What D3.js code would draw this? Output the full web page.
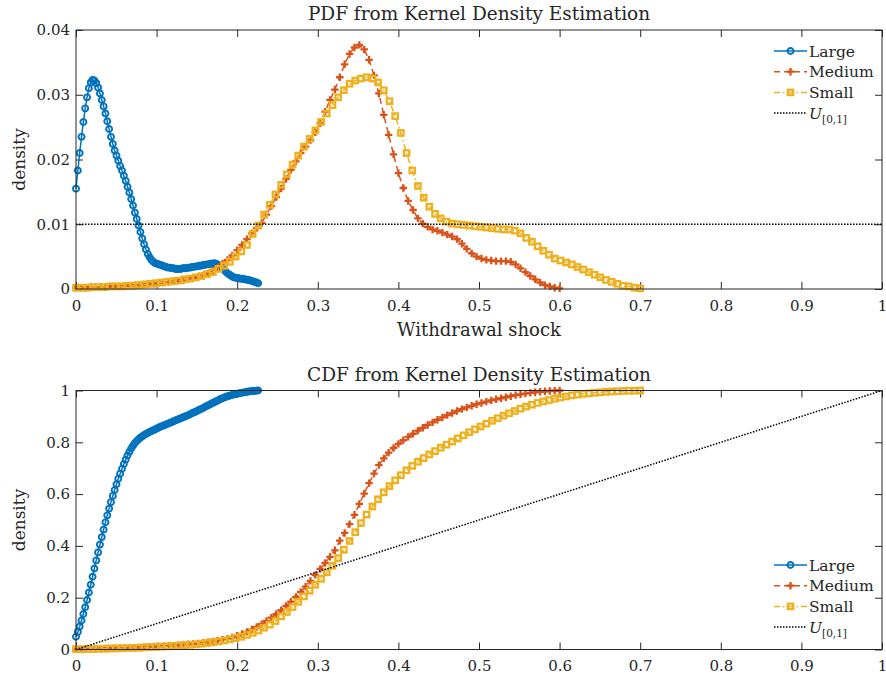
<!DOCTYPE html>
<html>
<head>
<meta charset="utf-8">
<script src="https://cdn.jsdelivr.net/npm/d3@7"></script>
<style>
  body { margin: 0; background: #fff; }
  svg text { font-family: "DejaVu Serif", serif; fill: #262626; }
</style>
</head>
<body>
<svg id="fig" width="886" height="681"></svg>
<script>
// ---- data -------------------------------------------------------------
const seriesNames = ["Large", "Medium", "Small"];
// each estimate is evaluated on 100 evenly spaced points from 0 up to gridEnds[k]
const gridEnds = [0.226, 0.6, 0.7];
const gridCount = 100;

const xTicks = [0, 0.1, 0.2, 0.3, 0.4, 0.5, 0.6, 0.7, 0.8, 0.9, 1];
const xTickLabels = ["0", "0.1", "0.2", "0.3", "0.4", "0.5", "0.6", "0.7", "0.8", "0.9", "1"];
const pdfTicks = [0, 0.01, 0.02, 0.03, 0.04];
const pdfTickLabels = ["0", "0.01", "0.02", "0.03", "0.04"];
const cdfTicks = [0, 0.2, 0.4, 0.6, 0.8, 1];
const cdfTickLabels = ["0", "0.2", "0.4", "0.6", "0.8", "1"];

// uniform reference U[0,1]
const uniformX = [0, 1];
const uniformPdf = [0.01, 0.01];
const uniformCdf = [0, 1];

const largePdf = [
  0.0155,0.0183,0.0210,0.0235,0.0258,0.0279,0.0296,0.0310,0.0319,0.0323,
  0.0322,0.0318,0.0311,0.0302,0.0292,0.0282,0.0271,0.0259,0.0247,0.0235,
  0.0224,0.0214,0.0206,0.0198,0.0190,0.0183,0.0175,0.0167,0.0158,0.0149,
  0.0139,0.0129,0.0118,0.0108,0.0098,0.0088,0.0078,0.0069,0.0061,0.0054,
  0.0049,0.0045,0.0042,0.0040,0.0039,0.0038,0.0037,0.0036,0.0035,0.0034,
  0.0033,0.0033,0.0032,0.0032,0.0031,0.0031,0.0031,0.0031,0.0032,0.0032,
  0.0032,0.0033,0.0033,0.0034,0.0034,0.0035,0.0035,0.0036,0.0036,0.0037,
  0.0037,0.0038,0.0038,0.0039,0.0039,0.0040,0.0039,0.0038,0.0036,0.0034,
  0.0031,0.0028,0.0025,0.0023,0.0021,0.0019,0.0018,0.0017,0.0017,0.0016,
  0.0016,0.0015,0.0015,0.0014,0.0014,0.0013,0.0012,0.0011,0.0010,0.0009];

const mediumPdf = [
  0.0002,0.0002,0.0002,0.0003,0.0003,0.0003,0.0003,0.0004,0.0004,0.0004,
  0.0005,0.0005,0.0006,0.0006,0.0007,0.0008,0.0008,0.0009,0.0010,0.0011,
  0.0012,0.0013,0.0014,0.0016,0.0017,0.0019,0.0021,0.0024,0.0028,0.0033,
  0.0039,0.0045,0.0052,0.0060,0.0068,0.0077,0.0086,0.0094,0.0102,0.0115,
  0.0128,0.0142,0.0155,0.0170,0.0184,0.0197,0.0210,0.0220,0.0230,0.0242,
  0.0256,0.0274,0.0292,0.0308,0.0327,0.0347,0.0363,0.0373,0.0377,0.0370,
  0.0354,0.0330,0.0302,0.0269,0.0238,0.0208,0.0179,0.0156,0.0136,0.0122,
  0.0109,0.0101,0.0096,0.0092,0.0090,0.0087,0.0084,0.0081,0.0077,0.0070,
  0.0062,0.0055,0.0050,0.0047,0.0045,0.0044,0.0043,0.0043,0.0043,0.0042,
  0.0038,0.0032,0.0026,0.0020,0.0015,0.0010,0.0006,0.0004,0.0002,0.0001];

const smallPdf = [
  0.0002,0.0002,0.0002,0.0003,0.0003,0.0003,0.0004,0.0004,0.0004,0.0005,
  0.0005,0.0006,0.0007,0.0008,0.0009,0.0010,0.0011,0.0012,0.0013,0.0015,
  0.0016,0.0018,0.0020,0.0023,0.0026,0.0031,0.0036,0.0042,0.0050,0.0058,
  0.0068,0.0085,0.0098,0.0115,0.0130,0.0146,0.0161,0.0177,0.0192,0.0206,
  0.0220,0.0232,0.0245,0.0258,0.0271,0.0284,0.0296,0.0307,0.0317,0.0322,
  0.0325,0.0327,0.0325,0.0319,0.0307,0.0290,0.0267,0.0241,0.0210,0.0183,
  0.0159,0.0141,0.0127,0.0116,0.0109,0.0104,0.0101,0.0100,0.0099,0.0098,
  0.0097,0.0096,0.0095,0.0094,0.0093,0.0092,0.0092,0.0090,0.0086,0.0079,
  0.0073,0.0066,0.0059,0.0053,0.0047,0.0044,0.0041,0.0038,0.0034,0.0030,
  0.0026,0.0022,0.0018,0.0014,0.0011,0.0008,0.0005,0.0004,0.0002,0.0001];

const largeCdf = [
  0.049,0.068,0.089,0.112,0.137,0.163,0.191,0.220,0.250,0.281,
  0.313,0.344,0.375,0.405,0.434,0.463,0.491,0.518,0.544,0.569,
  0.593,0.616,0.638,0.659,0.679,0.698,0.716,0.733,0.749,0.763,
  0.776,0.787,0.797,0.805,0.812,0.818,0.823,0.828,0.832,0.836,
  0.840,0.843,0.847,0.850,0.853,0.857,0.860,0.863,0.866,0.869,
  0.872,0.875,0.878,0.881,0.884,0.887,0.890,0.893,0.896,0.899,
  0.902,0.905,0.908,0.912,0.915,0.918,0.922,0.925,0.929,0.932,
  0.936,0.940,0.943,0.947,0.951,0.954,0.958,0.961,0.965,0.968,
  0.971,0.974,0.977,0.979,0.981,0.983,0.985,0.987,0.988,0.990,
  0.991,0.992,0.993,0.995,0.996,0.997,0.998,0.998,0.999,1.000];

const mediumCdf = [
  0.001,0.001,0.002,0.002,0.003,0.003,0.004,0.004,0.005,0.005,
  0.006,0.007,0.007,0.008,0.009,0.010,0.011,0.012,0.013,0.014,
  0.015,0.017,0.018,0.020,0.021,0.023,0.025,0.028,0.031,0.034,
  0.038,0.042,0.047,0.053,0.060,0.068,0.077,0.087,0.098,0.110,
  0.123,0.137,0.152,0.168,0.185,0.203,0.222,0.243,0.265,0.288,
  0.311,0.334,0.358,0.383,0.420,0.450,0.484,0.520,0.562,0.602,
  0.642,0.679,0.712,0.738,0.760,0.778,0.794,0.808,0.821,0.833,
  0.845,0.856,0.867,0.877,0.887,0.896,0.905,0.913,0.921,0.928,
  0.935,0.941,0.947,0.952,0.957,0.962,0.966,0.970,0.974,0.978,
  0.982,0.985,0.988,0.991,0.993,0.995,0.997,0.998,0.999,1.000];

const smallCdf = [
  0.001,0.001,0.002,0.002,0.003,0.003,0.004,0.004,0.005,0.006,
  0.006,0.007,0.008,0.009,0.010,0.011,0.012,0.014,0.015,0.017,
  0.018,0.020,0.022,0.025,0.028,0.031,0.035,0.039,0.044,0.049,
  0.056,0.064,0.073,0.084,0.096,0.110,0.128,0.145,0.164,0.184,
  0.205,0.227,0.250,0.273,0.298,0.323,0.353,0.385,0.419,0.453,
  0.488,0.521,0.552,0.580,0.607,0.631,0.653,0.673,0.692,0.709,
  0.725,0.739,0.753,0.766,0.779,0.791,0.803,0.815,0.827,0.839,
  0.850,0.861,0.872,0.883,0.893,0.903,0.912,0.921,0.930,0.938,
  0.945,0.952,0.958,0.963,0.968,0.973,0.977,0.981,0.984,0.987,
  0.989,0.991,0.993,0.995,0.996,0.997,0.998,0.999,0.999,1.000];

// ---- styling ----------------------------------------------------------
const colors = ["#0072BD", "#D95319", "#EDB120"];
const dashes = [null, "6,4", "6,3,1.5,3"];
const markers = ["circle", "plus", "square"];
const axisColor = "#262626";

const svg = d3.select("#fig");
const x = d3.scaleLinear().domain([0, 1]).range([76, 882]);

function drawMarker(g, kind, color) {
  if (kind === "circle") {
    g.append("circle").attr("r", 3).attr("fill", "none")
      .attr("stroke", color).attr("stroke-width", 1.9);
  } else if (kind === "plus") {
    g.append("path").attr("d", "M-3.7,0H3.7M0,-3.7V3.7").attr("fill", "none")
      .attr("stroke", color).attr("stroke-width", 2.3);
  } else {
    g.append("rect").attr("x", -2.7).attr("y", -2.7).attr("width", 5.4).attr("height", 5.4)
      .attr("fill", "none").attr("stroke", color).attr("stroke-width", 2.3);
  }
}

function panel(opt) {
  const y = d3.scaleLinear().domain(opt.yDomain).range([opt.bottom, opt.top]);
  const g = svg.append("g");

  // axes with inward ticks on all four sides
  const tk = 7;
  const styleAxis = sel => {
    sel.attr("font-family", null).attr("font-size", null);
    sel.selectAll("line").attr("stroke", axisColor);
    sel.select(".domain").remove();
    sel.selectAll("text").attr("font-size", 15).style("fill", axisColor);
  };
  g.append("g").attr("transform", `translate(0,${opt.bottom})`)
    .call(d3.axisBottom(x).tickValues(xTicks).tickFormat((d, i) => xTickLabels[i])
      .tickSize(-tk).tickPadding(11)).call(styleAxis);
  g.append("g").attr("transform", `translate(0,${opt.top})`)
    .call(d3.axisTop(x).tickValues(xTicks).tickFormat("").tickSize(-tk)).call(styleAxis);
  g.append("g").attr("transform", `translate(${x(0)},0)`)
    .call(d3.axisLeft(y).tickValues(opt.yTicks).tickFormat((d, i) => opt.yLabels[i])
      .tickSize(-tk).tickPadding(6)).call(styleAxis);
  g.append("g").attr("transform", `translate(${x(1)},0)`)
    .call(d3.axisRight(y).tickValues(opt.yTicks).tickFormat("").tickSize(-tk)).call(styleAxis);

  // series
  opt.values.forEach((vals, k) => {
    const pts = vals.map((v, i) => [i * gridEnds[k] / (gridCount - 1), v]);
    const line = d3.line().x(d => x(d[0])).y(d => y(d[1]));
    g.append("path").datum(pts).attr("d", line).attr("fill", "none")
      .attr("stroke", colors[k]).attr("stroke-width", 1.5)
      .attr("stroke-dasharray", dashes[k]);
    const mg = g.append("g");
    pts.forEach(p => {
      const m = mg.append("g").attr("transform", `translate(${x(p[0])},${y(p[1])})`);
      drawMarker(m, markers[k], colors[k]);
    });
  });

  // uniform reference
  g.append("path").datum(uniformX.map((u, i) => [u, opt.uniform[i]]))
    .attr("d", d3.line().x(d => x(d[0])).y(d => y(d[1])))
    .attr("fill", "none").attr("stroke", "#000").attr("stroke-width", 1.5)
    .attr("stroke-dasharray", "1.5,1.5");

  // box
  g.append("rect").attr("x", x(0)).attr("y", opt.top)
    .attr("width", x(1) - x(0)).attr("height", opt.bottom - opt.top)
    .attr("fill", "none").attr("stroke", axisColor).attr("stroke-width", 1);

  // title and labels
  g.append("text").attr("x", (x(0) + x(1)) / 2).attr("y", opt.top - 10)
    .attr("text-anchor", "middle").attr("font-size", 18.5).text(opt.title);
  g.append("text").attr("transform", `translate(25,${(opt.top + opt.bottom) / 2}) rotate(-90)`)
    .attr("text-anchor", "middle").attr("font-size", 17).text("density");
  if (opt.xlabel) {
    g.append("text").attr("x", (x(0) + x(1)) / 2).attr("y", opt.bottom + 47)
      .attr("text-anchor", "middle").attr("font-size", 18).text(opt.xlabel);
  }

  // legend
  const lg = g.append("g");
  const rows = seriesNames.concat(["U"]);
  rows.forEach((name, k) => {
    const ry = opt.legendY + k * 20.7;
    const r = lg.append("g").attr("transform", `translate(0,${ry})`);
    const isU = k === 3;
    r.append("line").attr("x1", 774).attr("x2", 807).attr("y1", 0).attr("y2", 0)
      .attr("stroke", isU ? "#000" : colors[k]).attr("stroke-width", 1.5)
      .attr("stroke-dasharray", isU ? "1.5,1.5" : dashes[k]);
    if (!isU) {
      const m = r.append("g").attr("transform", "translate(790.5,0)");
      drawMarker(m, markers[k], colors[k]);
    }
    const t = r.append("text").attr("x", 809).attr("y", 5.5).attr("font-size", 15.5);
    if (isU) {
      t.append("tspan").attr("font-style", "italic").text("U");
      t.append("tspan").attr("font-size", 10.5).attr("dy", 4).text("[0,1]");
    } else {
      t.text(name);
    }
  });
}

panel({
  top: 30, bottom: 289, yDomain: [0, 0.04], yTicks: pdfTicks, yLabels: pdfTickLabels,
  values: [largePdf, mediumPdf, smallPdf], uniform: uniformPdf,
  title: "PDF from Kernel Density Estimation", xlabel: "Withdrawal shock", legendY: 51
});
panel({
  top: 390.5, bottom: 649.5, yDomain: [0, 1], yTicks: cdfTicks, yLabels: cdfTickLabels,
  values: [largeCdf, mediumCdf, smallCdf], uniform: uniformCdf,
  title: "CDF from Kernel Density Estimation", xlabel: null, legendY: 565
});
</script>
</body>
</html>
